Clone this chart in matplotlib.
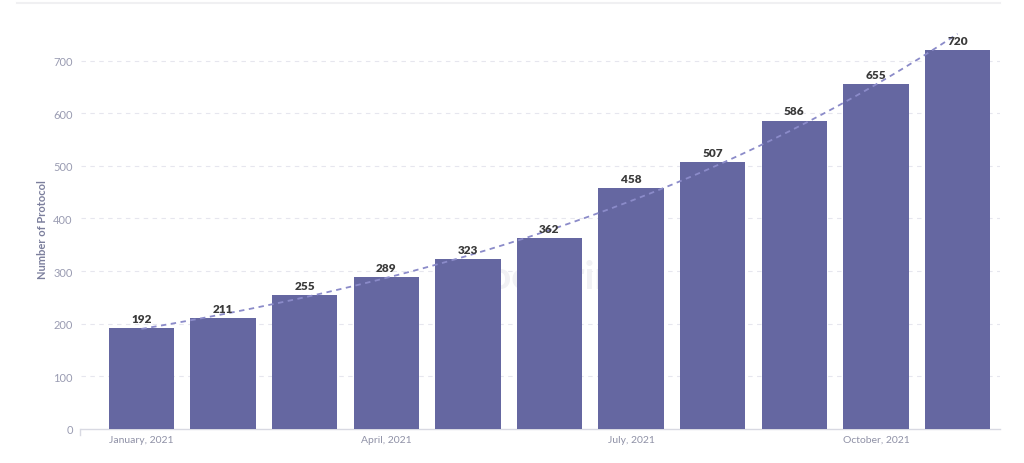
import numpy as np
import matplotlib
matplotlib.use("Agg")
import matplotlib.pyplot as plt
from matplotlib.lines import Line2D

months = ["January, 2021", "February, 2021", "March, 2021", "April, 2021", "May, 2021",
          "June, 2021", "July, 2021", "August, 2021", "September, 2021", "October, 2021",
          "November, 2021"]
protocols = [192, 211, 255, 289, 323, 362, 458, 507, 586, 655, 720]
shown_ticks = ["January, 2021", "April, 2021", "July, 2021", "October, 2021"]
y_ticks = [0, 100, 200, 300, 400, 500, 600, 700]

plt.rcParams['font.family'] = ['Lato', 'DejaVu Sans']

fig = plt.figure(figsize=(10.24, 4.64), dpi=100)
ax = fig.add_axes([81/1024, 1-430/464, (1000-81)/1024, 400/464])

x = np.arange(len(months))
bar_color = '#6567a1'
ax.bar(x, protocols, width=0.8, color=bar_color, zorder=3)

for xi, v in zip(x, protocols):
    ax.text(xi, v + 8, str(v), ha='center', va='bottom', fontsize=8.5,
            fontweight='heavy', color='#3a3a3a', zorder=5)

# exponential trend line fitted to the data
coef = np.polyfit(x, np.log(protocols), 1)
xt = np.linspace(0, len(months) - 1, 200)
yt = np.exp(np.polyval(coef, xt))
ax.plot(xt, yt, linestyle=(0, (3, 2.5)), color='#8b8bc9', linewidth=1.3, zorder=4)

ax.set_xlim(-0.74, 10.52)
ax.set_ylim(0, 760)
ax.set_yticks(y_ticks)
ax.set_yticklabels([str(t) for t in y_ticks])
pos = [months.index(m) for m in shown_ticks]
ax.set_xticks(pos)
ax.set_xticklabels(shown_ticks)

for s in ['top', 'right', 'left']:
    ax.spines[s].set_visible(False)
ax.spines['bottom'].set_color('#d8d9e2')
ax.spines['bottom'].set_linewidth(1.0)

ax.tick_params(axis='y', length=0, labelsize=8, labelcolor='#9a9cb2', pad=6)
ax.tick_params(axis='x', length=0, labelsize=7.5, labelcolor='#8f91a6', pad=4)
ax.grid(axis='y', linestyle=(0, (4, 4)), color='#e6e6ee', linewidth=0.8, zorder=0)
ax.set_axisbelow(True)
for gl in ax.get_ygridlines()[:1]:
    gl.set_visible(False)

ax.set_ylabel("Number of Protocol", fontsize=8, fontweight='bold', color='#7b7e9c', labelpad=4)

# small tick at left end of x axis
fig.add_artist(Line2D([80/1024, 80/1024], [1-430/464, 1-436/464], color='#d8d9e2', lw=1))
# top border line
fig.add_artist(Line2D([17/1024, 1000/1024], [1-4/464, 1-4/464], color='#f0f0f2', lw=1.5))

# faint watermark behind the bars
ax.text(4.0, 290, "Footprint", fontsize=28, fontweight='bold', color='#f1f1f4',
        ha='left', va='center', zorder=1)

fig.savefig("out.png", dpi=100, facecolor='white')
